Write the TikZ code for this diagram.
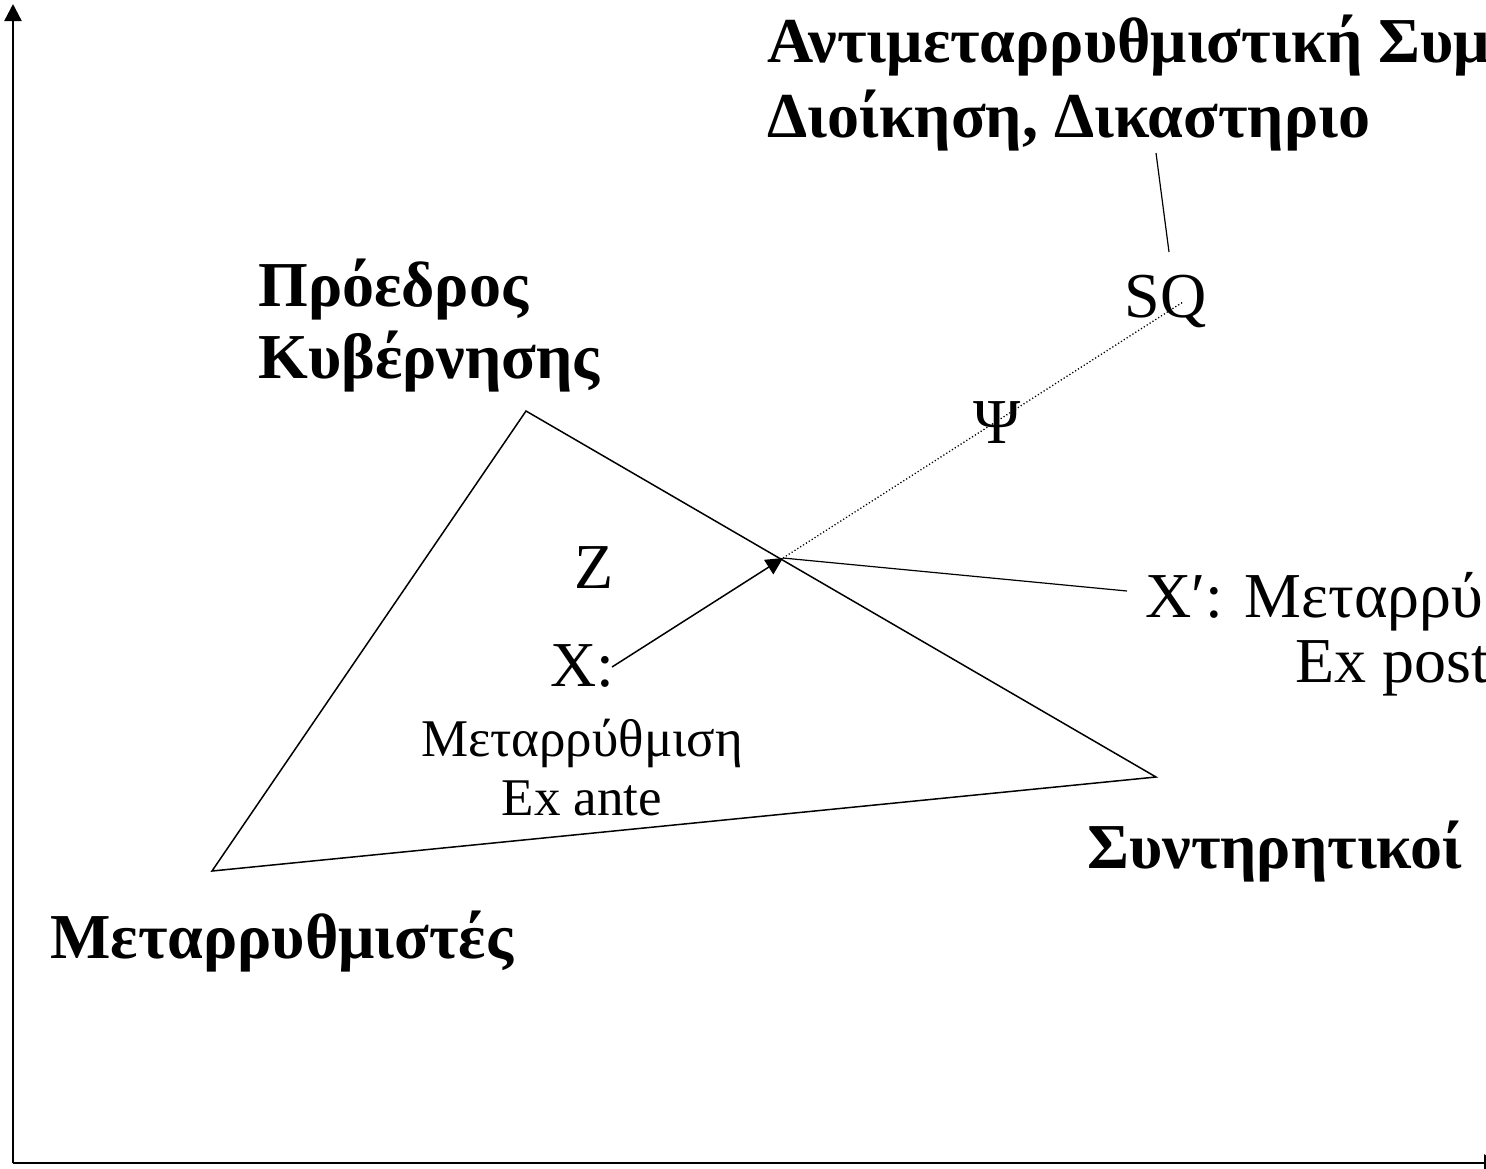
\documentclass[tikz,border=0pt]{standalone}
\usepackage{fontspec}
\setmainfont{Liberation Serif}
\usetikzlibrary{arrows.meta}
\begin{document}
\begin{tikzpicture}[x=0.5pt,y=-0.5pt,
  bigbold/.style={inner sep=0pt,font=\fontsize{32}{37}\selectfont\bfseries},
  bigreg/.style={inner sep=0pt,font=\fontsize{32}{37}\selectfont},
  smallreg/.style={inner sep=0pt,font=\fontsize{26.5}{31}\selectfont},
  axis/.style={line width=1.2pt},
  edge/.style={line width=0.75pt},
  thin/.style={line width=0.6pt},
  tip/.style={-{Triangle[width=8.5pt,length=8.5pt]}},
  dots/.style={line width=0.65pt,dash pattern=on 0.6pt off 1.1pt}]
\useasboundingbox (0,0) rectangle (1486,1168);
\clip (0,0) rectangle (1486,1168);

% axes
\coordinate (O) at (13,1163);
\coordinate (ytop) at (13,4);
\coordinate (xend) at (1501,1163);
\draw[axis,tip] (O) -- (ytop);
\draw[axis,tip] (O) -- (xend);

% triangle
\coordinate (P) at (526,411);
\coordinate (M) at (212,871);
\coordinate (C) at (1156,777);
\draw[edge] (P) -- (M) -- (C) -- cycle;

% points
\coordinate (J) at (783,558);
\coordinate (xs) at (612,667);
\coordinate (xpe) at (1127,591);
\coordinate (sqd) at (1183,302);
\coordinate (sqa) at (1169,252);
\coordinate (sqb) at (1156,153);

\draw[edge,tip] (xs) -- (J);
\draw[thin] (J) -- (xpe);
\draw[dots] (J) -- (sqd);
\draw[thin] (sqa) -- (sqb);

% labels
\node[bigbold,anchor=base west] (anti) at (767,62) {Αντιμεταρρυθμιστική Συμ};
\node[bigbold,anchor=base west] (dioik) at (767,137) {Διοίκηση, Δικαστηριο};
\node[bigbold,anchor=base west] (proe) at (258,306) {Πρόεδρος};
\node[bigbold,anchor=base west] (kyv) at (258,378) {Κυβέρνησης};
\node[bigreg,anchor=base west] (sq) at (1124,317) {SQ};
\node[bigreg,anchor=base] (psi) at (997,443) {Ψ};
\node[bigreg,anchor=base] (z) at (594,588) {Z};
\node[bigreg,anchor=base] (xl) at (582,686) {X:};
\node[smallreg,anchor=base] (metar) at (582,756) {Μεταρρύθμιση};
\node[smallreg,anchor=base] (exante) at (582,815) {Ex ante};
\node[bigreg,anchor=base west] (xp) at (1145,617) {X′: Μεταρρύ};
\node[bigreg,anchor=base west] (expost) at (1295,682) {Ex post};
\node[bigbold,anchor=base west] (synt) at (1087,868) {Συντηρητικοί};
\node[bigbold,anchor=base west] (metst) at (50,958) {Μεταρρυθμιστές};
\end{tikzpicture}
\end{document}
